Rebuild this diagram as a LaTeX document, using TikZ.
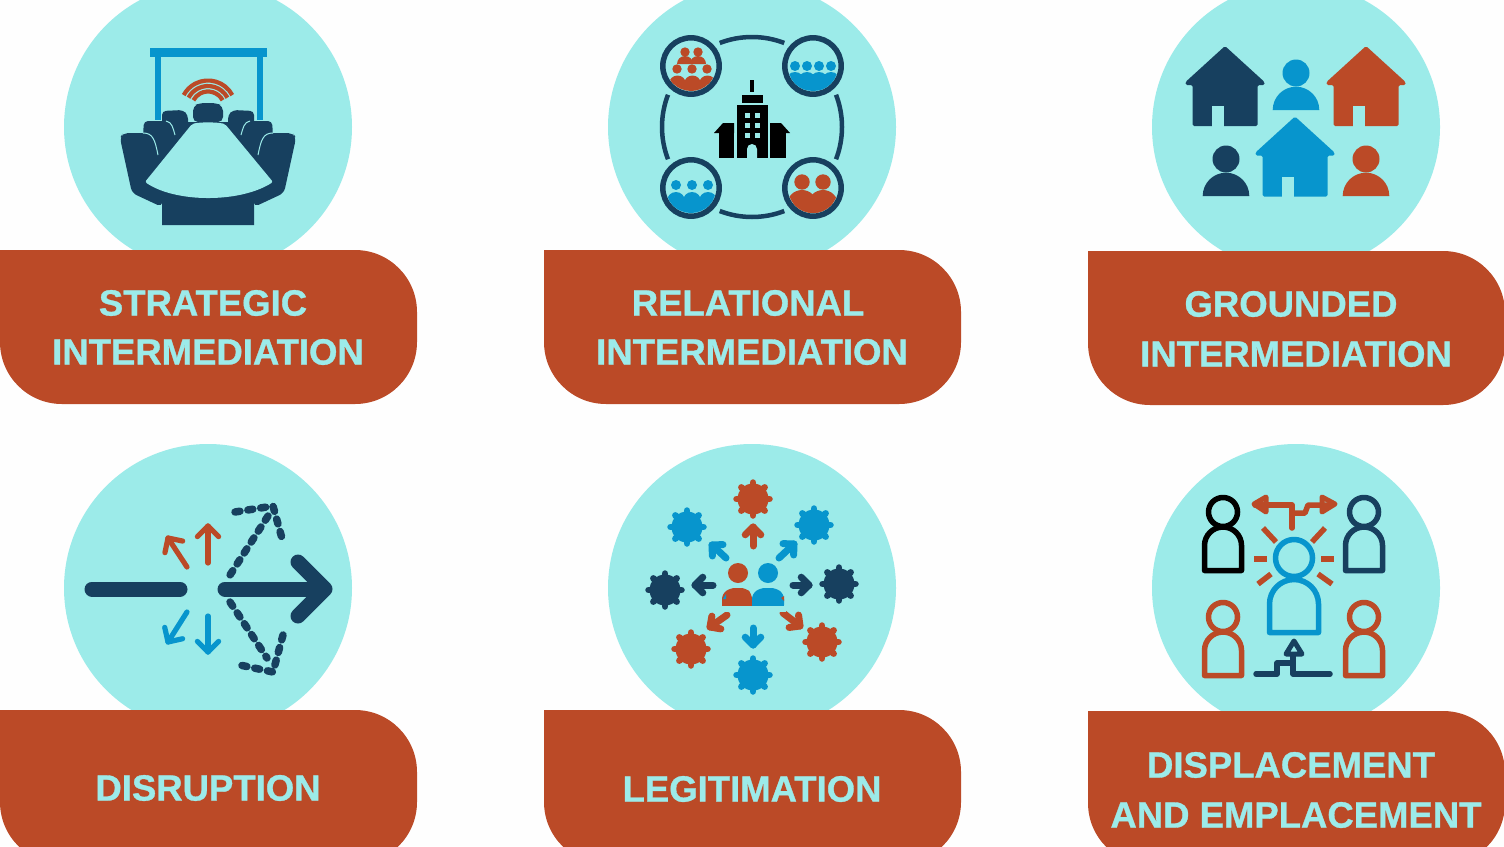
\documentclass[tikz,border=0pt]{standalone}
\usepackage{fontspec}
\setmainfont{Liberation Sans}[BoldFeatures={FakeBold=0.9}]
\usetikzlibrary{calc}
\definecolor{teal1}{HTML}{9CEBE9}
\definecolor{rust}{HTML}{BB4A27}
\definecolor{navy}{HTML}{17405F}
\definecolor{sky}{HTML}{0795CD}
\definecolor{paper}{HTML}{FEFEFE}
\tikzset{
  disc/.style={fill=teal1,draw=none},
  banner/.style={fill=rust,draw=none},
  label/.style={text=teal1,font=\bfseries\fontsize{36.5}{40}\selectfont,inner sep=0pt,anchor=center},
  stroke/.style={line width=#1,line cap=round,line join=round},
  dots/.style={navy,line width=7.5pt,line cap=round,line join=round,dash pattern=on 5pt off 8pt},
}
\newcommand{\panel}[4]{%
  \fill[disc] (#1,#2) circle[radius=144];
  \fill[banner] (#3,#4) -- (#3+355,#4) arc[start angle=270,end angle=360,radius=62]
    -- (#3+417,#4+92) arc[start angle=0,end angle=90,radius=62]
    -- (#3+62,#4+154) arc[start angle=90,end angle=180,radius=62] -- cycle;
}
\newcommand{\gearicon}[3]{%
  \fill[#3] (#1,#2) circle[radius=15.5];
  \foreach \a in {0,45,...,315}
    \draw[#3,stroke=6.5pt] (#1,#2) -- ++(\a:16.5);
}
% head size, line width, tail, tip, colour
\newcommand{\chev}[5]{%
  \draw[#5,stroke=#2] #3 -- #4;
  \draw[#5,stroke=#2] ($#4!#1!-45:#3$) -- #4 -- ($#4!#1!45:#3$);
}
\newcommand{\house}[3]{%
  \begin{scope}[shift={(#1,#2)}]
  \fill[#3,rounded corners=1.5pt] (0,0) -- (39.5,36) -- (39.5,39) -- (32.5,39) -- (32.5,80)
    -- (-32.5,80) -- (-32.5,39) -- (-39.5,39) -- (-39.5,36) -- cycle;
  \fill[teal1] (-13.3,60) rectangle (-1,80.5);
  \end{scope}
}
\newcommand{\solidperson}[3]{%
  \fill[#3] (#1,#2) circle[radius=13.5];
  \fill[#3] (#1-23.3,#2+37) arc[start angle=180,end angle=360,radius=23.3] -- cycle;
}
\newcommand{\outl}[7]{%
  \draw[#7,stroke=5.5pt] (#1,#2) circle[radius=#3];
  \draw[#7,stroke=5.5pt] (#1-#4,#6) -- (#1-#4,#5+#4) arc[start angle=180,end angle=360,radius=#4] -- (#1+#4,#6) -- cycle;
}
\begin{document}
\begin{tikzpicture}[x=1pt,y=-1pt]
\useasboundingbox (0,0) rectangle (1504,846);
\clip (0,0) rectangle (1504,846);
\fill[paper] (0,0) rectangle (1504,846);

\panel{208}{127}{0}{250}
\panel{752}{127}{544}{250}
\panel{1296}{127}{1088}{251}
\panel{208}{588}{0}{710}
\panel{752}{588}{544}{710}
\panel{1296}{588}{1088}{711}

% ---- strategic
\fill[sky] (150,48) rectangle (267,57);
\fill[sky] (155,57) rectangle (161,120);
\fill[sky] (257,57) rectangle (263,120);
\foreach \r in {27.5,22,16.5}
  \draw[rust,line width=4.2pt] (208,108) ++(-28:\r) arc[start angle=-28,end angle=-152,radius=\r];
\fill[navy,rounded corners=5pt] (193,122) -- (193,106) -- (200,103) -- (216,103) -- (223,106) -- (223,122) -- cycle;
\foreach \s in {1,-1}{
  \fill[navy,rounded corners=4pt] (208+\s*46,136) -- (208+\s*46,111) -- (208+\s*25,110) -- (208+\s*20,115) -- (208+\s*20,136) -- cycle;
  \fill[navy,rounded corners=4pt] (208+\s*65,135) -- (208+\s*64,121) -- (208+\s*38,121) -- (208+\s*30,125) -- (208+\s*30,160) -- (208+\s*60,160) -- cycle;
  \fill[navy,rounded corners=5pt] (208+\s*88,138) -- (208+\s*85,133) -- (208+\s*55,133) -- (208+\s*40,150) -- (208+\s*46,207) -- (208+\s*76,193) -- cycle;
}
\fill[navy] (180,122) -- (236,122) -- (273,182) -- (254,202) -- (254,225) -- (162,225) -- (162,202) -- (143,182) -- cycle;
\fill[teal1,rounded corners=2pt] (192,124) .. controls (200,122) and (216,122) .. (225,124) -- (273,182) .. controls (240,203) and (176,203) .. (145,182) -- cycle;
\foreach \s in {1,-1}{
  \draw[teal1,line width=1pt] (208+\s*65,133) .. controls (208+\s*55,133) and (208+\s*53,140) .. (208+\s*50,155);
  \draw[teal1,line width=1pt] (208+\s*42,121) .. controls (208+\s*36,122) and (208+\s*35,128) .. (208+\s*33,135);
}

% ---- relational
\foreach \a in {90,270,0,180}
  \draw[navy,line width=4.5pt] (752,127) ++(\a-21:90) arc[start angle=\a-21,end angle=\a+21,radius=90];
\foreach \cx/\cy in {691/66,813/66,691/188,813/188}
  \draw[navy,line width=5.5pt] (\cx,\cy) circle[radius=28.2];
\begin{scope}
  \clip (691,66) circle[radius=25];
  \fill[rust] (685,52) circle[radius=4.7] (698,52) circle[radius=4.7];
  \fill[rust] (677,64) arc[start angle=180,end angle=360,radius=8] -- cycle;
  \fill[rust] (690,64) arc[start angle=180,end angle=360,radius=8] -- cycle;
  \fill[rust] (677,69) circle[radius=4.7] (692,69) circle[radius=4.7] (707,69) circle[radius=4.7];
  \fill[rust] (669,84) arc[start angle=180,end angle=360,radius=8.5] -- cycle;
  \fill[rust] (684,84) arc[start angle=180,end angle=360,radius=8.5] -- cycle;
  \fill[rust] (699,84) arc[start angle=180,end angle=360,radius=8.5] -- cycle;
  \fill[rust] (665,81) rectangle (720,95);
\end{scope}
\begin{scope}
  \clip (813,66) circle[radius=25];
  \foreach \h in {795,807,819,831}{
    \fill[sky] (\h,66) circle[radius=5];
    \fill[sky] (\h,81) circle[radius=9];
  }
  \fill[sky] (785,78) rectangle (845,95);
\end{scope}
\begin{scope}
  \clip (691,188) circle[radius=25];
  \foreach \h in {676,692,708}{
    \fill[sky] (\h,185) circle[radius=5];
    \fill[sky] (\h,201) circle[radius=9];
  }
  \fill[sky] (665,199) rectangle (720,215);
\end{scope}
\begin{scope}
  \clip (813,188) circle[radius=25];
  \foreach \h in {802,823}{
    \fill[rust] (\h,182) circle[radius=7.7];
    \fill[rust] (\h,205) circle[radius=15];
  }
  \fill[rust] (785,203) rectangle (845,220);
\end{scope}
\fill[black] (750,80) rectangle (754,92);
\fill[black] (742,95) rectangle (763,103);
\fill[black] (737,105) rectangle (768,158);
\fill[black] (719,133) rectangle (734,158);
\fill[black] (770,133) rectangle (786,158);
\fill[black] (714,133) -- (723,123) -- (734,123) -- (734,133) -- cycle;
\fill[black] (770,123) -- (781,123) -- (790,133) -- (770,133) -- cycle;
\foreach \wy in {113,123,133}
  \foreach \wx in {745,755}
    \fill[teal1] (\wx,\wy) rectangle (\wx+5,\wy+5);
\fill[teal1] (747,158) -- (747,149) arc[start angle=180,end angle=360,radius=5] -- (757,158) -- cycle;

% ---- grounded
\house{1225}{46}{navy}
\house{1366}{46}{rust}
\house{1295}{116.5}{sky}
\solidperson{1296}{73}{sky}
\solidperson{1226}{159}{navy}
\solidperson{1366}{159}{rust}

% ---- disruption
\draw[navy,stroke=15pt] (92,589) -- (180,589);
\draw[navy,stroke=15pt] (225,589) -- (322,589);
\draw[navy,stroke=15pt] (298,562) -- (325,589) -- (298,616);
\draw[dots] (235,512) -- (273,506) -- (283,542);
\draw[dots] (268,516) -- (230,575);
\draw[dots] (230,602) -- (267,658);
\draw[dots] (283,635) -- (273,672) -- (235,664);
\chev{15pt}{5.2pt}{(208,563)}{(208,526)}{rust}
\chev{15pt}{5.2pt}{(187,567)}{(168,538)}{rust}
\chev{15pt}{5.2pt}{(208,616)}{(208,652)}{sky}
\chev{15pt}{5.2pt}{(187,612)}{(168,642)}{sky}

% ---- legitimation
\gearicon{753}{499}{rust}
\gearicon{687}{527}{sky}
\gearicon{814}{525}{sky}
\gearicon{665}{590}{navy}
\gearicon{839}{584}{navy}
\gearicon{691}{649}{rust}
\gearicon{822}{642}{rust}
\gearicon{753}{675}{sky}
\chev{11pt}{7pt}{(753,546)}{(753,527)}{rust}
\chev{11pt}{7pt}{(726,558)}{(712,545)}{sky}
\chev{11pt}{7pt}{(779,558)}{(794,544)}{sky}
\chev{11pt}{7pt}{(713,585)}{(695,585)}{navy}
\chev{11pt}{7pt}{(793,585)}{(809,585)}{navy}
\chev{11pt}{7pt}{(727,615)}{(710,627)}{rust}
\chev{11pt}{7pt}{(783,613)}{(800,626)}{rust}
\chev{11pt}{7pt}{(753,628)}{(753,645)}{sky}
\fill[rust] (738,573) circle[radius=10];
\fill[sky] (768,573) circle[radius=10];
\fill[rust,rounded corners=5pt] (722,610) -- (722,594) -- (730,588) -- (746,588) -- (752,594) -- (752,610) -- cycle;
\fill[rust] (722,600) rectangle (752,606);
\fill[sky,rounded corners=5pt] (752,610) -- (752,594) -- (760,588) -- (776,588) -- (784,594) -- (784,610) -- cycle;
\fill[sky] (752,600) rectangle (784,606);
\fill[teal1] (720,606) rectangle (786,612);
\fill[sky] (723,599) -- (726,594) -- (726,599) -- cycle;
\fill[rust] (781,598) -- (784,596) -- (784,601) -- cycle;

% ---- displacement
\outl{1223}{512}{14.5}{18.5}{527}{570.5}{black}
\outl{1364}{512}{14.5}{18.5}{527}{570.5}{navy}
\outl{1223}{617}{14.5}{18.5}{632}{675.5}{rust}
\outl{1364}{617}{14.5}{18.5}{632}{675.5}{rust}
\outl{1294}{558}{18.5}{24.5}{579.5}{632.5}{sky}
\begin{scope}[rust]
  \draw[stroke=5.5pt] (1292,528) -- (1292,505) -- (1255,505);
  \draw[stroke=5.5pt] (1292,513) -- (1305,513) -- (1308,505) -- (1332,505);
  \draw[stroke=5pt] (1254,504) -- (1266,497) -- (1266,512) -- cycle;
  \draw[stroke=5pt] (1335,504) -- (1322,497) -- (1322,512) -- cycle;
  \foreach \xa/\ya/\xb/\yb in {1263/528/1276/542,1325/528/1312/542,1254/559/1267/559,1321/559/1334/559,1258/584/1271/574,1318/574/1332/584}
    \draw[line width=5.5pt] (\xa,\ya) -- (\xb,\yb);
\end{scope}
\draw[navy,stroke=5.5pt] (1256,674) -- (1277,674) -- (1277,663) -- (1293,663);
\draw[navy,stroke=5.5pt] (1293,655) -- (1293,674) -- (1330,674);
\draw[navy,stroke=5pt] (1294,641) -- (1286,654) -- (1302,654) -- cycle;

% ---- labels
\node[label] (t1a) at (203,303) {STRATEGIC};
\node[label] (t1b) at (208,352) {INTERMEDIATION};
\node[label] (t2a) at (748,303) {RELATIONAL};
\node[label] (t2b) at (752,352) {INTERMEDIATION};
\node[label] (t3a) at (1291,304) {GROUNDED};
\node[label] (t3b) at (1296,354) {INTERMEDIATION};
\node[label] (t4) at (208,788) {DISRUPTION};
\node[label] (t5) at (752,789) {LEGITIMATION};
\node[label] (t6a) at (1291,765) {DISPLACEMENT};
\node[label] (t6b) at (1296,815) {AND EMPLACEMENT};
\end{tikzpicture}
\end{document}
